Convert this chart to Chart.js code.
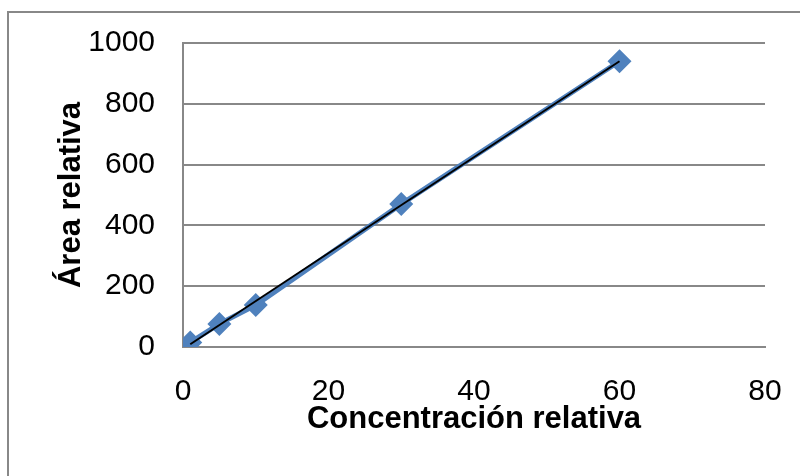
<!DOCTYPE html>
<html>
<head>
<meta charset="utf-8">
<script src="https://cdn.jsdelivr.net/npm/chart.js@4"></script>
<style>
  body { margin: 0; background: #fff; }
  #wrap { position: relative; width: 800px; height: 476px; overflow: hidden; }
  #marco { position: absolute; left: 7px; top: 11px; width: 820px; height: 500px;
           border-left: 2px solid #888; border-top: 2px solid #888; }
  #myChart { position: absolute; left: 0; top: 0; }
</style>
</head>
<body>
<div id="wrap">
  <div id="marco"></div>
  <canvas id="myChart" width="800" height="476"></canvas>
</div>
<script>
// datos
const concentracion = [1, 5, 10, 30, 60];
const area = [15, 76, 138, 470, 940];
// linea de tendencia (extremos)
const tendenciaX = [1, 60];
const tendenciaY = [9, 940];

const fuente = "'Liberation Sans', Arial, sans-serif";
const gris = "#888888";

const puntos = concentracion.map((x, i) => ({ x: x, y: area[i] }));
const tendencia = tendenciaX.map((x, i) => ({ x: x, y: tendenciaY[i] }));

const graphic = document.getElementById("myChart").getContext("2d");

new Chart(graphic, {
    type: "scatter",
    data: {
        datasets: [
            {
                label: "Tendencia",
                data: tendencia,
                showLine: true,
                borderColor: "#000000",
                borderWidth: 2,
                pointRadius: 0,
                order: 0
            },
            {
                label: "Área relativa",
                data: puntos,
                showLine: true,
                borderColor: "#4F81BD",
                backgroundColor: "#4F81BD",
                borderWidth: 5,
                pointStyle: "rectRot",
                pointRadius: 12,
                pointBorderWidth: 0,
                order: 1
            }
        ]
    },
    options: {
        responsive: false,
        animation: false,
        layout: { padding: { left: 0, top: 43, right: 35, bottom: 0 } },
        plugins: { legend: { display: false }, tooltip: { enabled: false } },
        scales: {
            x: {
                type: "linear",
                min: 0,
                max: 80,
                ticks: { stepSize: 20, color: "#000", padding: 27, font: { family: fuente, size: 30 },
                         callback: (v) => String(v) },
                grid: { display: false, drawTicks: false },
                border: { color: gris, width: 2 },
                title: {
                    display: true,
                    text: "Concentración relativa",
                    color: "#000",
                    font: { family: fuente, size: 31, weight: "bold" },
                    padding: { top: 0, bottom: 38 }
                },
                afterFit: function (scale) {
                    scale.height = 476 - 347;
                    scale.paddingLeft = 0;
                    scale.paddingRight = 0;
                }
            },
            y: {
                type: "linear",
                min: 0,
                max: 1000,
                ticks: { stepSize: 200, color: "#000", padding: 28, font: { family: fuente, size: 30 },
                         callback: (v) => String(v) },
                grid: { color: gris, lineWidth: 2, drawTicks: false },
                border: { color: gris, width: 2 },
                title: {
                    display: true,
                    text: "Área relativa",
                    color: "#000",
                    font: { family: fuente, size: 31, weight: "bold" },
                    padding: { top: 53, bottom: 0 }
                },
                afterFit: function (scale) {
                    scale.width = 183;
                    scale.paddingTop = 0;
                    scale.paddingBottom = 0;
                }
            }
        }
    }
});
</script>
</body>
</html>
